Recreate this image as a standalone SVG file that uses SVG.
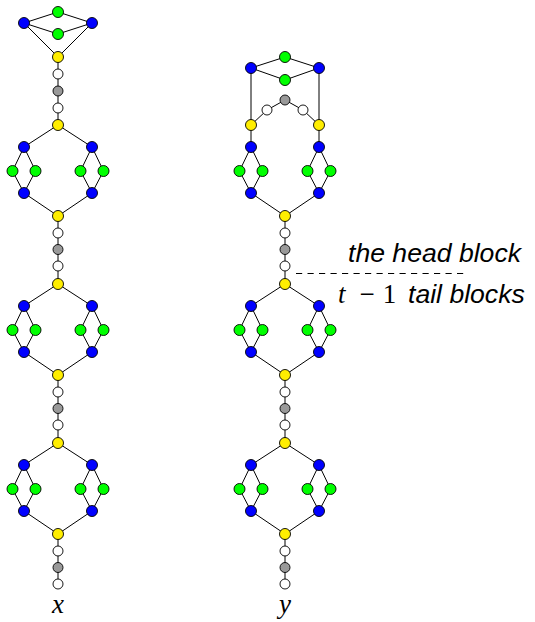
<svg xmlns="http://www.w3.org/2000/svg" width="535" height="622" viewBox="0 0 535 622">
<style>
.e{fill:none;stroke:#000;stroke-width:1;stroke-linejoin:round}
.d{fill:none;stroke:#000;stroke-width:1;stroke-dasharray:6.2 5.3}
circle{stroke:#000;stroke-width:0.9}
.b{fill:#0000ff}.g{fill:#00ff00}.y{fill:#ffee00}.w{fill:#fff}.k{fill:#999}
.sa{font-family:"Liberation Sans",Arial,sans-serif;font-style:italic;font-size:26.6px;fill:#000}
.m{font-family:"Liberation Serif","Times New Roman",serif;font-size:27px;fill:#000}
.mi{font-style:italic}
</style>
<g id="connectors">
<path class="e" d="M24,23 L58,12 L92,23 L58,34 Z M24,23 L58,57 L92,23 M58,57 V125"/>
<path class="e" d="M58,125 L24,147 L12.5,171 L24,193 L58,216 L92,193 L103.5,171 L92,147 Z M24,147 L35.5,171 L24,193 M92,147 L80.5,171 L92,193 M58,216 V284"/>
<path class="e" d="M58,284 L24,306 L12.5,330 L24,352 L58,375 L92,352 L103.5,330 L92,306 Z M24,306 L35.5,330 L24,352 M92,306 L80.5,330 L92,352 M58,375 V443"/>
<path class="e" d="M58,443 L24,465 L12.5,489 L24,511 L58,534 L92,511 L103.5,489 L92,465 Z M24,465 L35.5,489 L24,511 M92,465 L80.5,489 L92,511 M58,534 V584"/>
<path class="e" d="M251,68 L285,57 L319,68 L285,80 Z M251,68 V147 M319,68 V147 M251,125 L267,110 L285,100 L303,110 L319,125"/>
<path class="e" d="M251,147 L239.5,171 L251,193 L285,216 L319,193 L330.5,171 L319,147 M251,147 L262.5,171 L251,193 M319,147 L307.5,171 L319,193 M285,216 V284"/>
<path class="e" d="M285,284 L251,306 L239.5,330 L251,352 L285,375 L319,352 L330.5,330 L319,306 Z M251,306 L262.5,330 L251,352 M319,306 L307.5,330 L319,352 M285,375 V443"/>
<path class="e" d="M285,443 L251,465 L239.5,489 L251,511 L285,534 L319,511 L330.5,489 L319,465 Z M251,465 L262.5,489 L251,511 M319,465 L307.5,489 L319,511 M285,534 V584"/>
<path class="d" d="M296,273.5 H464"/>
</g>
<g id="x-top-g1"><circle class="g" cx="58" cy="12" r="5.5"/></g>
<g id="x-top-b1"><circle class="b" cx="24" cy="23" r="5.5"/></g>
<g id="x-top-b2"><circle class="b" cx="92" cy="23" r="5.5"/></g>
<g id="x-top-g2"><circle class="g" cx="58" cy="34" r="5.5"/></g>
<g id="x-top-y"><circle class="y" cx="58" cy="57" r="5.5"/></g>
<g id="x-c0-w1"><circle class="w" cx="58" cy="74" r="5"/></g>
<g id="x-c0-k"><circle class="k" cx="58" cy="91" r="5"/></g>
<g id="x-c0-w2"><circle class="w" cx="58" cy="108" r="5"/></g>
<g id="x-1-yt"><circle class="y" cx="58" cy="125" r="5.5"/></g>
<g id="x-1-b1"><circle class="b" cx="24" cy="147" r="5.5"/></g>
<g id="x-1-b2"><circle class="b" cx="92" cy="147" r="5.5"/></g>
<g id="x-1-g1"><circle class="g" cx="12.5" cy="171" r="5.5"/></g>
<g id="x-1-g2"><circle class="g" cx="35.5" cy="171" r="5.5"/></g>
<g id="x-1-g3"><circle class="g" cx="80.5" cy="171" r="5.5"/></g>
<g id="x-1-g4"><circle class="g" cx="103.5" cy="171" r="5.5"/></g>
<g id="x-1-b3"><circle class="b" cx="24" cy="193" r="5.5"/></g>
<g id="x-1-b4"><circle class="b" cx="92" cy="193" r="5.5"/></g>
<g id="x-1-yb"><circle class="y" cx="58" cy="216" r="5.5"/></g>
<g id="x-c1-w1"><circle class="w" cx="58" cy="233" r="5"/></g>
<g id="x-c1-k"><circle class="k" cx="58" cy="249.5" r="5"/></g>
<g id="x-c1-w2"><circle class="w" cx="58" cy="266" r="5"/></g>
<g id="x-2-yt"><circle class="y" cx="58" cy="284" r="5.5"/></g>
<g id="x-2-b1"><circle class="b" cx="24" cy="306" r="5.5"/></g>
<g id="x-2-b2"><circle class="b" cx="92" cy="306" r="5.5"/></g>
<g id="x-2-g1"><circle class="g" cx="12.5" cy="330" r="5.5"/></g>
<g id="x-2-g2"><circle class="g" cx="35.5" cy="330" r="5.5"/></g>
<g id="x-2-g3"><circle class="g" cx="80.5" cy="330" r="5.5"/></g>
<g id="x-2-g4"><circle class="g" cx="103.5" cy="330" r="5.5"/></g>
<g id="x-2-b3"><circle class="b" cx="24" cy="352" r="5.5"/></g>
<g id="x-2-b4"><circle class="b" cx="92" cy="352" r="5.5"/></g>
<g id="x-2-yb"><circle class="y" cx="58" cy="375" r="5.5"/></g>
<g id="x-c2-w1"><circle class="w" cx="58" cy="392" r="5"/></g>
<g id="x-c2-k"><circle class="k" cx="58" cy="408.5" r="5"/></g>
<g id="x-c2-w2"><circle class="w" cx="58" cy="425" r="5"/></g>
<g id="x-3-yt"><circle class="y" cx="58" cy="443" r="5.5"/></g>
<g id="x-3-b1"><circle class="b" cx="24" cy="465" r="5.5"/></g>
<g id="x-3-b2"><circle class="b" cx="92" cy="465" r="5.5"/></g>
<g id="x-3-g1"><circle class="g" cx="12.5" cy="489" r="5.5"/></g>
<g id="x-3-g2"><circle class="g" cx="35.5" cy="489" r="5.5"/></g>
<g id="x-3-g3"><circle class="g" cx="80.5" cy="489" r="5.5"/></g>
<g id="x-3-g4"><circle class="g" cx="103.5" cy="489" r="5.5"/></g>
<g id="x-3-b3"><circle class="b" cx="24" cy="511" r="5.5"/></g>
<g id="x-3-b4"><circle class="b" cx="92" cy="511" r="5.5"/></g>
<g id="x-3-yb"><circle class="y" cx="58" cy="534" r="5.5"/></g>
<g id="x-c3-w1"><circle class="w" cx="58" cy="551" r="5"/></g>
<g id="x-c3-k"><circle class="k" cx="58" cy="567.5" r="5"/></g>
<g id="x-c3-w2"><circle class="w" cx="58" cy="584" r="5"/></g>
<g id="y-top-g1"><circle class="g" cx="285" cy="57" r="5.5"/></g>
<g id="y-top-b1"><circle class="b" cx="251" cy="68" r="5.5"/></g>
<g id="y-top-b2"><circle class="b" cx="319" cy="68" r="5.5"/></g>
<g id="y-top-g2"><circle class="g" cx="285" cy="80" r="5.5"/></g>
<g id="y-top-k"><circle class="k" cx="285" cy="100" r="5"/></g>
<g id="y-top-w1"><circle class="w" cx="267" cy="110" r="5"/></g>
<g id="y-top-w2"><circle class="w" cx="303" cy="110" r="5"/></g>
<g id="y-top-y1"><circle class="y" cx="251" cy="125" r="5.5"/></g>
<g id="y-top-y2"><circle class="y" cx="319" cy="125" r="5.5"/></g>
<g id="y-1-b1"><circle class="b" cx="251" cy="147" r="5.5"/></g>
<g id="y-1-b2"><circle class="b" cx="319" cy="147" r="5.5"/></g>
<g id="y-1-g1"><circle class="g" cx="239.5" cy="171" r="5.5"/></g>
<g id="y-1-g2"><circle class="g" cx="262.5" cy="171" r="5.5"/></g>
<g id="y-1-g3"><circle class="g" cx="307.5" cy="171" r="5.5"/></g>
<g id="y-1-g4"><circle class="g" cx="330.5" cy="171" r="5.5"/></g>
<g id="y-1-b3"><circle class="b" cx="251" cy="193" r="5.5"/></g>
<g id="y-1-b4"><circle class="b" cx="319" cy="193" r="5.5"/></g>
<g id="y-1-yb"><circle class="y" cx="285" cy="216" r="5.5"/></g>
<g id="y-c1-w1"><circle class="w" cx="285" cy="233" r="5"/></g>
<g id="y-c1-k"><circle class="k" cx="285" cy="249.5" r="5"/></g>
<g id="y-c1-w2"><circle class="w" cx="285" cy="266" r="5"/></g>
<g id="y-2-yt"><circle class="y" cx="285" cy="284" r="5.5"/></g>
<g id="y-2-b1"><circle class="b" cx="251" cy="306" r="5.5"/></g>
<g id="y-2-b2"><circle class="b" cx="319" cy="306" r="5.5"/></g>
<g id="y-2-g1"><circle class="g" cx="239.5" cy="330" r="5.5"/></g>
<g id="y-2-g2"><circle class="g" cx="262.5" cy="330" r="5.5"/></g>
<g id="y-2-g3"><circle class="g" cx="307.5" cy="330" r="5.5"/></g>
<g id="y-2-g4"><circle class="g" cx="330.5" cy="330" r="5.5"/></g>
<g id="y-2-b3"><circle class="b" cx="251" cy="352" r="5.5"/></g>
<g id="y-2-b4"><circle class="b" cx="319" cy="352" r="5.5"/></g>
<g id="y-2-yb"><circle class="y" cx="285" cy="375" r="5.5"/></g>
<g id="y-c2-w1"><circle class="w" cx="285" cy="392" r="5"/></g>
<g id="y-c2-k"><circle class="k" cx="285" cy="408.5" r="5"/></g>
<g id="y-c2-w2"><circle class="w" cx="285" cy="425" r="5"/></g>
<g id="y-3-yt"><circle class="y" cx="285" cy="443" r="5.5"/></g>
<g id="y-3-b1"><circle class="b" cx="251" cy="465" r="5.5"/></g>
<g id="y-3-b2"><circle class="b" cx="319" cy="465" r="5.5"/></g>
<g id="y-3-g1"><circle class="g" cx="239.5" cy="489" r="5.5"/></g>
<g id="y-3-g2"><circle class="g" cx="262.5" cy="489" r="5.5"/></g>
<g id="y-3-g3"><circle class="g" cx="307.5" cy="489" r="5.5"/></g>
<g id="y-3-g4"><circle class="g" cx="330.5" cy="489" r="5.5"/></g>
<g id="y-3-b3"><circle class="b" cx="251" cy="511" r="5.5"/></g>
<g id="y-3-b4"><circle class="b" cx="319" cy="511" r="5.5"/></g>
<g id="y-3-yb"><circle class="y" cx="285" cy="534" r="5.5"/></g>
<g id="y-c3-w1"><circle class="w" cx="285" cy="551" r="5"/></g>
<g id="y-c3-k"><circle class="k" cx="285" cy="567.5" r="5"/></g>
<g id="y-c3-w2"><circle class="w" cx="285" cy="584" r="5"/></g>
<g id="labels">
<text class="sa" x="348" y="262">the head block</text>
<text class="m mi" x="338" y="303">t</text>
<text class="m" x="367" y="303" text-anchor="middle" font-size="31">−</text>
<text class="m" x="389.5" y="303" text-anchor="middle">1</text>
<text class="sa" x="408" y="303">tail blocks</text>
<text class="m mi" x="58" y="613" text-anchor="middle" font-size="28">x</text>
<text class="m mi" x="285" y="613" text-anchor="middle" font-size="28">y</text>
</g>
</svg>
